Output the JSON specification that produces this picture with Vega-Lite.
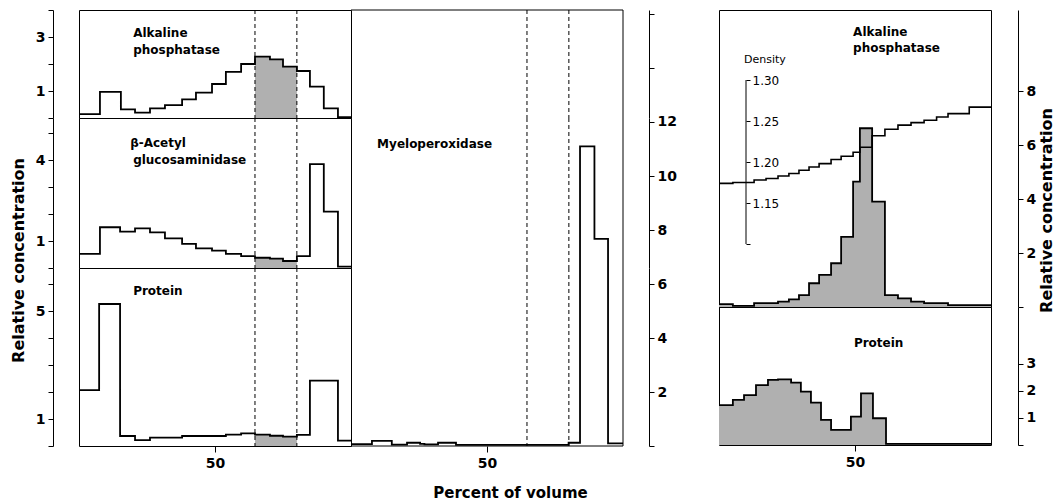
{
  "$schema": "https://vega.github.io/schema/vega-lite/v6.json",
  "padding": {"left": 9, "top": 9, "right": 0, "bottom": 0},
  "spacing": 0,
  "config": {
    "font": "DejaVu Sans",
    "view": {"stroke": "#000", "strokeWidth": 1},
    "axis": {"domainColor": "#000", "tickColor": "#000", "labelColor": "#000", "titleColor": "#000", "grid": false, "labelOverlap": false, "labelFont": "DejaVu Sans", "labelFontWeight": "bold", "labelFontSize": 14, "titleFont": "DejaVu Sans", "titleFontWeight": "bold", "titleFontSize": 16, "tickSize": 5, "domainWidth": 1, "tickWidth": 1},
    "text": {"font": "DejaVu Sans", "fontWeight": "bold", "fontSize": 12, "color": "#000", "align": "left", "baseline": "middle"}
  },
  "datasets": {
    "alk": [{"x":0,"v":0.14},{"x":7.7,"v":0.97},{"x":15.4,"v":0.32},{"x":20.6,"v":0.2},{"x":26.1,"v":0.36},{"x":31.6,"v":0.48},{"x":37.9,"v":0.69},{"x":43,"v":0.94},{"x":48.9,"v":1.26},{"x":54,"v":1.71},{"x":59.6,"v":2.0},{"x":64.7,"v":2.27},{"x":70.2,"v":2.17},{"x":75,"v":1.9},{"x":80.1,"v":1.74},{"x":84.9,"v":1.16},{"x":90,"v":0.36},{"x":95.2,"v":0.03},{"x":100,"v":0.03}],
    "alkS": [{"x":64.7,"v":2.27},{"x":70.2,"v":2.17},{"x":75,"v":1.9},{"x":80.1,"v":1.9}],
    "nag": [{"x":0,"v":0.52},{"x":7.7,"v":1.51},{"x":15.1,"v":1.35},{"x":20.6,"v":1.47},{"x":26.1,"v":1.32},{"x":31.6,"v":1.1},{"x":37.9,"v":0.89},{"x":43,"v":0.73},{"x":48.9,"v":0.64},{"x":54,"v":0.52},{"x":59.6,"v":0.44},{"x":64.7,"v":0.38},{"x":70.2,"v":0.35},{"x":75,"v":0.26},{"x":80.1,"v":0.44},{"x":84.9,"v":3.85},{"x":90,"v":2.09},{"x":95.2,"v":0.05},{"x":100,"v":0.05}],
    "nagS": [{"x":64.7,"v":0.38},{"x":70.2,"v":0.35},{"x":75,"v":0.26},{"x":80.1,"v":0.26}],
    "prot": [{"x":0,"v":2.07},{"x":7.4,"v":5.26},{"x":15.1,"v":0.37},{"x":20.6,"v":0.22},{"x":26.1,"v":0.31},{"x":37.9,"v":0.37},{"x":54,"v":0.42},{"x":59.6,"v":0.47},{"x":64.7,"v":0.42},{"x":70.2,"v":0.38},{"x":75,"v":0.35},{"x":80.1,"v":0.41},{"x":84.9,"v":2.42},{"x":95.2,"v":0.2},{"x":100,"v":0.2}],
    "protS": [{"x":64.7,"v":0.42},{"x":70.2,"v":0.38},{"x":75,"v":0.35},{"x":80.1,"v":0.35}],
    "mpo": [{"x":0,"v":0.07},{"x":7.7,"v":0.19},{"x":15,"v":0.05},{"x":20.6,"v":0.12},{"x":25.4,"v":0.08},{"x":27,"v":0.06},{"x":32,"v":0.12},{"x":38.6,"v":0.04},{"x":80,"v":0.12},{"x":84.2,"v":11.1},{"x":89.5,"v":7.67},{"x":94.5,"v":0.1},{"x":100,"v":0.1}],
    "alkR": [{"x":0,"v":0.11},{"x":5.1,"v":0.04},{"x":12.9,"v":0.14},{"x":21.7,"v":0.2},{"x":25.7,"v":0.28},{"x":29.4,"v":0.44},{"x":33.1,"v":0.88},{"x":36.8,"v":1.19},{"x":41.2,"v":1.62},{"x":44.9,"v":2.6},{"x":49.3,"v":4.64},{"x":51.8,"v":6.62},{"x":56.3,"v":3.9},{"x":61,"v":0.44},{"x":65.8,"v":0.32},{"x":70.6,"v":0.2},{"x":75.4,"v":0.14},{"x":84.2,"v":0.07},{"x":100,"v":0.07}],
    "dens": [{"x":0,"d":1.174},{"x":5.1,"d":1.175},{"x":12.9,"d":1.178},{"x":17.3,"d":1.18},{"x":21.7,"d":1.183},{"x":25.7,"d":1.186},{"x":29.4,"d":1.19},{"x":33.1,"d":1.194},{"x":36.8,"d":1.198},{"x":41.2,"d":1.203},{"x":44.9,"d":1.207},{"x":49.3,"d":1.212},{"x":51.8,"d":1.218},{"x":56.3,"d":1.232},{"x":61,"d":1.24},{"x":65.8,"d":1.245},{"x":70.6,"d":1.248},{"x":75.4,"d":1.251},{"x":80,"d":1.255},{"x":84.2,"d":1.259},{"x":92,"d":1.267},{"x":100,"d":1.267}],
    "protR": [{"x":0,"v":1.48},{"x":5.1,"v":1.67},{"x":9.2,"v":1.85},{"x":13.6,"v":2.22},{"x":18,"v":2.41},{"x":21.7,"v":2.43},{"x":26.5,"v":2.31},{"x":30.1,"v":1.98},{"x":33.8,"v":1.57},{"x":37.5,"v":0.93},{"x":41.2,"v":0.56},{"x":48.5,"v":1.05},{"x":52.2,"v":1.91},{"x":56.6,"v":0.99},{"x":61.4,"v":0.04},{"x":100,"v":0.04}],
    "dash": [{"x":64.7},{"x":80.1}],
    "edgeR": [{"x":100}]
  },
  "hconcat": [
    {
      "concat": [
        {
          "width": 272, "height": 108,
          "layer": [
            {
              "layer": [
                {"data": {"name": "alkS"}, "mark": {"type": "area", "interpolate": "step-after", "color": "#b0b0b0"},
                 "encoding": {"x": {"field": "x", "type": "quantitative", "scale": {"domain": [0, 100], "nice": false}, "axis": null},
                              "y": {"field": "v", "type": "quantitative", "scale": {"domain": [0, 4], "nice": false}, "axis": {"orient": "left", "offset": 26, "values": [1, 3], "title": null, "labelPadding": 3}}}},
                {"data": {"name": "alk"}, "mark": {"type": "line", "interpolate": "step-after", "color": "#000", "strokeWidth": 1.8},
                 "encoding": {"x": {"field": "x", "type": "quantitative", "scale": {"domain": [0, 100], "nice": false}, "axis": null},
                              "y": {"field": "v", "type": "quantitative", "scale": {"domain": [0, 4], "nice": false}}}},
                {"data": {"name": "dash"}, "mark": {"type": "rule", "color": "#000", "strokeDash": [4, 3], "strokeWidth": 1},
                 "encoding": {"x": {"field": "x", "type": "quantitative", "scale": {"domain": [0, 100], "nice": false}, "axis": null}}}
              ]
            },
            {"data": {"values": [{"x": 19.9, "v": 3.15, "t": "Alkaline"}, {"x": 19.9, "v": 2.52, "t": "phosphatase"}]}, "mark": {"type": "text"},
             "encoding": {"x": {"field": "x", "type": "quantitative", "scale": {"domain": [0, 100], "nice": false}, "axis": null},
                          "y": {"field": "v", "type": "quantitative", "scale": {"domain": [0, 4], "nice": false}, "axis": {"orient": "left", "offset": 26, "values": [0, 2, 4], "labels": false, "domain": false, "title": null}},
                          "text": {"field": "t"}}}
          ],
          "resolve": {"scale": {"y": "independent"}, "axis": {"y": "independent"}}
        },
        {
          "width": 272, "height": 108,
          "view": {"stroke": null},
          "layer": [
            {"data": {"name": "mpo"}, "mark": {"type": "line", "interpolate": "step-after", "color": "#000", "strokeWidth": 1.8, "clip": true},
             "encoding": {"x": {"field": "x", "type": "quantitative", "scale": {"domain": [0, 100], "nice": false}, "axis": null},
                          "y": {"field": "v", "type": "quantitative", "scale": {"domain": [12.148, 16.15], "nice": false, "zero": false}, "axis": {"orient": "right", "offset": 26, "values": [14, 16], "labels": false, "title": null}}}},
            {"data": {"name": "dash"}, "mark": {"type": "rule", "color": "#000", "strokeDash": [4, 3], "strokeWidth": 1},
             "encoding": {"x": {"field": "x", "type": "quantitative", "scale": {"domain": [0, 100], "nice": false}, "axis": null}}},
            {"data": {"values": [{"v": 16.15}]}, "mark": {"type": "rule", "color": "#000", "strokeWidth": 1},
             "encoding": {"y": {"field": "v", "type": "quantitative", "scale": {"domain": [12.148, 16.15], "nice": false, "zero": false}}}},
            {"data": {"name": "edgeR"}, "mark": {"type": "rule", "color": "#000", "strokeWidth": 1},
             "encoding": {"x": {"field": "x", "type": "quantitative", "scale": {"domain": [0, 100], "nice": false}, "axis": null}}}
          ]
        },
        {
          "width": 272, "height": 150,
          "layer": [
            {
              "layer": [
                {"data": {"name": "nagS"}, "mark": {"type": "area", "interpolate": "step-after", "color": "#b0b0b0"},
                 "encoding": {"x": {"field": "x", "type": "quantitative", "scale": {"domain": [0, 100], "nice": false}, "axis": null},
                              "y": {"field": "v", "type": "quantitative", "scale": {"domain": [0, 5.556], "nice": false}, "axis": {"orient": "left", "offset": 26, "values": [1, 4], "title": "Relative    concentration", "titleAngle": 270, "titleX": -35, "titleY": 142, "titleAlign": "center", "titleBaseline": "middle", "labelPadding": 3}}}},
                {"data": {"name": "nag"}, "mark": {"type": "line", "interpolate": "step-after", "color": "#000", "strokeWidth": 1.8},
                 "encoding": {"x": {"field": "x", "type": "quantitative", "scale": {"domain": [0, 100], "nice": false}, "axis": null},
                              "y": {"field": "v", "type": "quantitative", "scale": {"domain": [0, 5.556], "nice": false}}}},
                {"data": {"name": "dash"}, "mark": {"type": "rule", "color": "#000", "strokeDash": [4, 3], "strokeWidth": 1},
                 "encoding": {"x": {"field": "x", "type": "quantitative", "scale": {"domain": [0, 100], "nice": false}, "axis": null}}}
              ]
            },
            {"data": {"values": [{"x": 18.8, "v": 4.63, "t": "β-Acetyl"}, {"x": 19.9, "v": 4.0, "t": "glucosaminidase"}]}, "mark": {"type": "text"},
             "encoding": {"x": {"field": "x", "type": "quantitative", "scale": {"domain": [0, 100], "nice": false}, "axis": null},
                          "y": {"field": "v", "type": "quantitative", "scale": {"domain": [0, 5.556], "nice": false}, "axis": {"orient": "left", "offset": 26, "values": [0, 2, 3, 5], "labels": false, "domain": false, "title": null}},
                          "text": {"field": "t"}}}
          ],
          "resolve": {"scale": {"y": "independent"}, "axis": {"y": "independent"}}
        },
        {
          "width": 272, "height": 150,
          "view": {"stroke": null},
          "layer": [
            {"data": {"name": "mpo"}, "mark": {"type": "line", "interpolate": "step-after", "color": "#000", "strokeWidth": 1.8, "clip": true},
             "encoding": {"x": {"field": "x", "type": "quantitative", "scale": {"domain": [0, 100], "nice": false}, "axis": null},
                          "y": {"field": "v", "type": "quantitative", "scale": {"domain": [6.593, 12.148], "nice": false, "zero": false}, "axis": {"orient": "right", "offset": 26, "values": [8, 10, 12], "title": null, "labelPadding": 3}}}},
            {"data": {"name": "dash"}, "mark": {"type": "rule", "color": "#000", "strokeDash": [4, 3], "strokeWidth": 1},
             "encoding": {"x": {"field": "x", "type": "quantitative", "scale": {"domain": [0, 100], "nice": false}, "axis": null}}},
            {"data": {"name": "edgeR"}, "mark": {"type": "rule", "color": "#000", "strokeWidth": 1},
             "encoding": {"x": {"field": "x", "type": "quantitative", "scale": {"domain": [0, 100], "nice": false}, "axis": null}}},
            {"data": {"values": [{"x": 9.6, "v": 11.2, "t": "Myeloperoxidase"}]}, "mark": {"type": "text"},
             "encoding": {"x": {"field": "x", "type": "quantitative", "scale": {"domain": [0, 100], "nice": false}, "axis": null},
                          "y": {"field": "v", "type": "quantitative", "scale": {"domain": [6.593, 12.148], "nice": false, "zero": false}},
                          "text": {"field": "t"}}}
          ]
        },
        {
          "width": 272, "height": 178,
          "layer": [
            {
              "layer": [
                {"data": {"name": "protS"}, "mark": {"type": "area", "interpolate": "step-after", "color": "#b0b0b0"},
                 "encoding": {"x": {"field": "x", "type": "quantitative", "scale": {"domain": [0, 100], "nice": false}, "axis": {"values": [50], "title": null, "domain": false, "tickSize": 6, "labelPadding": 4}},
                              "y": {"field": "v", "type": "quantitative", "scale": {"domain": [0, 6.593], "nice": false}, "axis": {"orient": "left", "offset": 26, "values": [1, 5], "title": null, "labelPadding": 3}}}},
                {"data": {"name": "prot"}, "mark": {"type": "line", "interpolate": "step-after", "color": "#000", "strokeWidth": 1.8},
                 "encoding": {"x": {"field": "x", "type": "quantitative", "scale": {"domain": [0, 100], "nice": false}},
                              "y": {"field": "v", "type": "quantitative", "scale": {"domain": [0, 6.593], "nice": false}}}},
                {"data": {"name": "dash"}, "mark": {"type": "rule", "color": "#000", "strokeDash": [4, 3], "strokeWidth": 1},
                 "encoding": {"x": {"field": "x", "type": "quantitative", "scale": {"domain": [0, 100], "nice": false}}}}
              ]
            },
            {"data": {"values": [{"x": 19.9, "v": 5.74, "t": "Protein"}]}, "mark": {"type": "text"},
             "encoding": {"x": {"field": "x", "type": "quantitative", "scale": {"domain": [0, 100], "nice": false}},
                          "y": {"field": "v", "type": "quantitative", "scale": {"domain": [0, 6.593], "nice": false}, "axis": {"orient": "left", "offset": 26, "values": [0, 2, 3, 4, 6], "labels": false, "domain": false, "title": null}},
                          "text": {"field": "t"}}}
          ],
          "resolve": {"scale": {"y": "independent"}, "axis": {"y": "independent"}}
        },
        {
          "width": 272, "height": 178,
          "view": {"stroke": null},
          "layer": [
            {"data": {"name": "mpo"}, "mark": {"type": "line", "interpolate": "step-after", "color": "#000", "strokeWidth": 1.8, "clip": true},
             "encoding": {"x": {"field": "x", "type": "quantitative", "scale": {"domain": [0, 100], "nice": false}, "axis": {"values": [50], "title": "Percent  of  volume", "domain": false, "tickSize": 6, "labelPadding": 4, "titleFontSize": 15, "titleX": 159, "titleY": 46, "titleAlign": "center", "titleBaseline": "middle"}},
                          "y": {"field": "v", "type": "quantitative", "scale": {"domain": [0, 6.593], "nice": false}, "axis": {"orient": "right", "offset": 26, "values": [0, 2, 4, 6], "labelExpr": "datum.value > 0 ? datum.label : ''", "title": null, "labelPadding": 3}}}},
            {"data": {"name": "dash"}, "mark": {"type": "rule", "color": "#000", "strokeDash": [4, 3], "strokeWidth": 1},
             "encoding": {"x": {"field": "x", "type": "quantitative", "scale": {"domain": [0, 100], "nice": false}}}},
            {"data": {"name": "edgeR"}, "mark": {"type": "rule", "color": "#000", "strokeWidth": 1},
             "encoding": {"x": {"field": "x", "type": "quantitative", "scale": {"domain": [0, 100], "nice": false}}}},
            {"data": {"values": [{"v": 0}]}, "mark": {"type": "rule", "color": "#000", "strokeWidth": 1},
             "encoding": {"y": {"field": "v", "type": "quantitative", "scale": {"domain": [0, 6.593], "nice": false}}}}
          ]
        }
      ],
      "columns": 2,
      "spacing": 0,
      "bounds": "flush"
    },
    {
      "width": 37, "height": 10,
      "data": {"values": []},
      "mark": "point",
      "view": {"stroke": null}
    },
    {
      "vconcat": [
        {
          "width": 272, "height": 297,
          "layer": [
            {
              "layer": [
                {"data": {"name": "alkR"}, "mark": {"type": "area", "interpolate": "step-after", "color": "#b0b0b0"},
                 "encoding": {"x": {"field": "x", "type": "quantitative", "scale": {"domain": [0, 100], "nice": false}, "axis": null},
                              "y": {"field": "v", "type": "quantitative", "scale": {"domain": [0, 11], "nice": false}, "axis": {"orient": "right", "offset": 27, "values": [0,2,4,6,8], "labelExpr": "datum.value > 0 ? datum.label : ''", "title": "Relative    concentration", "titleAngle": 270, "titleX": 28, "titleY": 200, "titleAlign": "center", "titleBaseline": "middle", "labelPadding": 3}}}},
                {"data": {"name": "alkR"}, "mark": {"type": "line", "interpolate": "step-after", "color": "#000", "strokeWidth": 1.8},
                 "encoding": {"x": {"field": "x", "type": "quantitative", "scale": {"domain": [0, 100], "nice": false}, "axis": null},
                              "y": {"field": "v", "type": "quantitative", "scale": {"domain": [0, 11], "nice": false}}}},
                {"data": {"values": [{"x": 49.3, "v": 10.2, "t": "Alkaline"}, {"x": 49.3, "v": 9.6, "t": "phosphatase"}]}, "mark": {"type": "text"},
                 "encoding": {"x": {"field": "x", "type": "quantitative", "scale": {"domain": [0, 100], "nice": false}, "axis": null},
                              "y": {"field": "v", "type": "quantitative", "scale": {"domain": [0, 11], "nice": false}},
                              "text": {"field": "t"}}},
                {"data": {"values": [{"x": 9.2, "v": 9.15, "t": "Density"}]}, "mark": {"type": "text", "fontSize": 11, "fontWeight": "normal"},
                 "encoding": {"x": {"field": "x", "type": "quantitative", "scale": {"domain": [0, 100], "nice": false}, "axis": null},
                              "y": {"field": "v", "type": "quantitative", "scale": {"domain": [0, 11], "nice": false}},
                              "text": {"field": "t"}}}
              ]
            },
            {
              "layer": [
                {"data": {"name": "dens"}, "mark": {"type": "line", "interpolate": "step-after", "color": "#000", "strokeWidth": 1.6},
                 "encoding": {"x": {"field": "x", "type": "quantitative", "scale": {"domain": [0, 100], "nice": false}, "axis": null},
                              "y": {"field": "d", "type": "quantitative", "scale": {"domain": [1.0232, 1.3854], "nice": false, "zero": false}, "axis": {"orient": "right", "offset": -245, "values": [1.1, 1.15, 1.2, 1.25, 1.3], "format": ".2f", "labelExpr": "datum.value > 1.12 ? datum.label : ''", "domain": false, "tickSize": 4, "labelPadding": 2, "labelFontSize": 12, "labelFontWeight": "normal", "title": null}}}},
                {"data": {"values": [{"x": 9.93, "d": 1.1, "d2": 1.3}]}, "mark": {"type": "rule", "color": "#000", "strokeWidth": 1},
                 "encoding": {"x": {"field": "x", "type": "quantitative", "scale": {"domain": [0, 100], "nice": false}, "axis": null},
                              "y": {"field": "d", "type": "quantitative", "scale": {"domain": [1.0232, 1.3854], "nice": false, "zero": false}},
                              "y2": {"field": "d2"}}}
              ]
            }
          ],
          "resolve": {"scale": {"y": "independent"}, "axis": {"y": "independent"}}
        },
        {
          "width": 272, "height": 138,
          "layer": [
            {"data": {"name": "protR"}, "mark": {"type": "area", "interpolate": "step-after", "color": "#b0b0b0"},
             "encoding": {"x": {"field": "x", "type": "quantitative", "scale": {"domain": [0, 100], "nice": false}, "axis": {"values": [50], "title": null, "domain": false, "tickSize": 6, "labelPadding": 4}},
                          "y": {"field": "v", "type": "quantitative", "scale": {"domain": [0, 5.11], "nice": false}, "axis": {"orient": "right", "offset": 27, "values": [0,1,2,3], "labelExpr": "datum.value > 0 ? datum.label : ''", "title": null, "labelPadding": 3}}}},
            {"data": {"name": "protR"}, "mark": {"type": "line", "interpolate": "step-after", "color": "#000", "strokeWidth": 1.8},
             "encoding": {"x": {"field": "x", "type": "quantitative", "scale": {"domain": [0, 100], "nice": false}},
                          "y": {"field": "v", "type": "quantitative", "scale": {"domain": [0, 5.11], "nice": false}}}},
            {"data": {"values": [{"x": 49.6, "v": 3.78, "t": "Protein"}]}, "mark": {"type": "text"},
             "encoding": {"x": {"field": "x", "type": "quantitative", "scale": {"domain": [0, 100], "nice": false}},
                          "y": {"field": "v", "type": "quantitative", "scale": {"domain": [0, 5.11], "nice": false}},
                          "text": {"field": "t"}}}
          ]
        }
      ],
      "spacing": 0,
      "bounds": "flush"
    }
  ]
}
